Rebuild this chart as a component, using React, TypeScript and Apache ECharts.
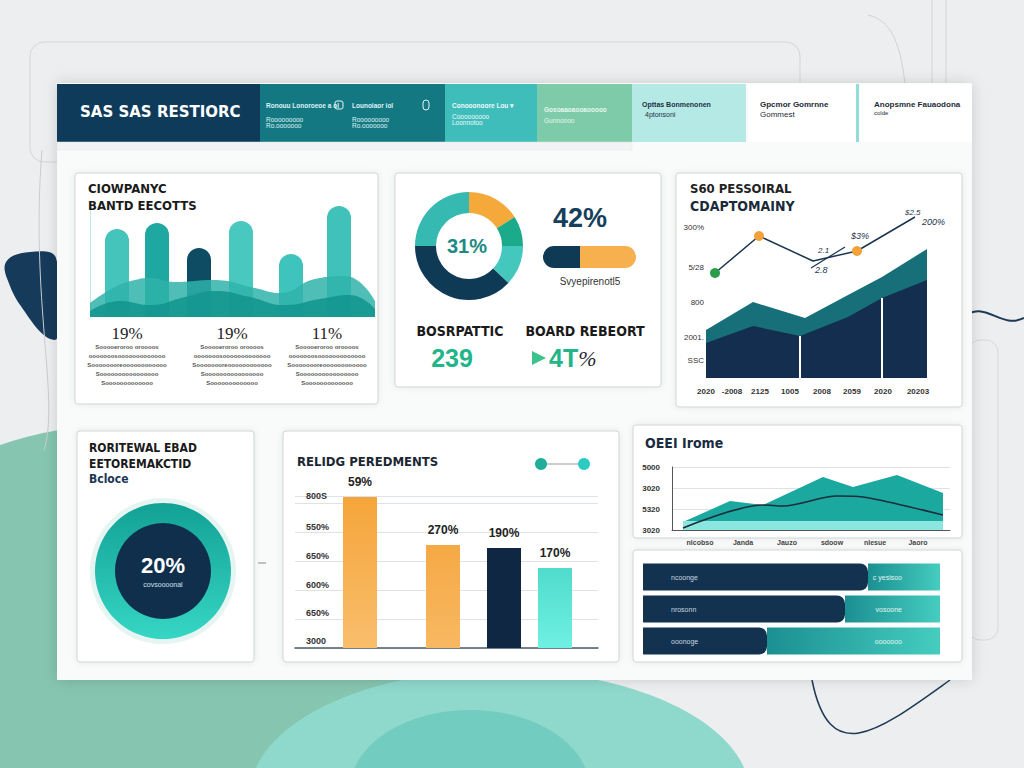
import React, { useEffect, useRef } from "react";
import * as echarts from "echarts";

// ---------- DATA ----------
const headerTitle = "SAS SAS RESTIORC";

// Panel 1: growth bars (x position on value axis, height)
const growthX = [27, 67, 109, 151, 201, 249];
const growthValues = [88, 94, 69, 96, 63, 111];
const growthWaveBack = [[0, 14], [25, 30], [45, 37], [60, 39], [85, 35], [123, 37], [165, 29], [190, 24], [225, 38], [255, 41], [285, 16]];
const growthWaveFront = [[0, 6], [30, 16], [60, 12], [95, 20], [125, 26], [160, 20], [195, 12], [230, 18], [260, 22], [285, 8]];
const growthPercents = ["19%", "19%", "11%"];
const growthNotes = ["Sooooeroroo oroooos", "ooooooosooooooooooooo", "Soooooooreoooooooooooo", "Soooooooooooooooo", "Sooooooooooooo"];

// Panel 2: donut + progress
const donutValues = [16, 9, 12, 38, 25];
const donutCenter = "31%";
const headlineValue = "42%";
const progressValues = [37, 56];
const progressCaption = "Svyepirenotl5";
const kpiLeftTitle = "BOSRPATTIC";
const kpiRightTitle = "BOARD REBEORT";
const kpiLeftValue = "239";
const kpiRightValue = "4T";

// Panel 3: personal company area chart
const p3NavyArea = [[0, 35], [47, 52], [94, 42], [142, 61], [176, 80], [221, 98]];
const p3TealArea = [[0, 48], [47, 76], [99, 60], [142, 83], [176, 101], [221, 129]];
const p3Line = [[9, 105], [53, 142], [107, 117], [151, 127], [209, 161]];
const p3ShortLine = [[105, 110], [139, 131]];
const p3YTicks = [18, 41, 76, 111, 151];
const p3YLabels = ["SSC", "2001.", "800", "5/28", "300%"];
const p3XTicks = [0, 26, 54, 84, 116, 146, 177, 212];
const p3XLabels = ["2020", "-2008", "2125", "1005", "2008", "2059", "2020", "20203"];

// Panel 4: ring
const ringValue = "20%";
const ringCaption = "covsoooonal";

// Panel 5: performance bars
const perfX = [65, 148, 209, 260];
const perfValues = [151, 103, 100, 80];
const perfLabels = ["59%", "270%", "190%", "170%"];
const perfYTicks = [7, 35, 63, 92, 121, 152];
const perfYLabels = ["3000", "650%", "600%", "650%", "550%", "800S"];

// Panel 6: income area
const incomeArea = [[11, 8], [58, 29], [91, 25], [151, 53], [181, 43], [225, 55], [271, 37]];
const incomeBand = [[11, 9], [271, 9]];
const incomeLine = [[11, 2], [91, 25], [111, 24], [165, 34], [191, 33], [225, 26], [271, 15]];
const incomeYLabels = ["3020", "5320", "3020", "5000"];
const incomeXTicks = [28, 71, 115, 160, 203, 246];
const incomeXLabels = ["nlcobso", "Janda", "Jauzo", "sdoow", "nlesue", "Jaoro"];

// Panel 7: horizontal bars
const rowCats = ["r1", "r2", "r3"];
const rowNavy = [225, 202, 124];
const rowTeal = [72, 95, 173];
const rowLeftLabels = ["ncoonge", "nrosonn", "ooonoge"];
const rowRightLabels = ["c yesisoo", "vosoone", "ooooooo"];

// ---------- HELPERS ----------
const F = "'Liberation Sans', Arial, sans-serif";
const txt = (x: number, y: number, text: string, style: any = {}, z = 50) => ({
  type: "text",
  x,
  y,
  z,
  silent: true,
  style: { text, fontFamily: F, fontSize: 12, fill: "#222", textVerticalAlign: "middle", ...style },
});
const rect = (x: number, y: number, w: number, h: number, style: any, extra: any = {}) => ({
  type: "rect",
  shape: { x, y, width: w, height: h, r: extra.r || 0 },
  style,
  silent: true,
  z: extra.z ?? 0,
});
const panel = (x: number, y: number, w: number, h: number) =>
  rect(x, y, w, h, { fill: "#ffffff", stroke: "#cfd4d7", lineWidth: 1, shadowBlur: 6, shadowColor: "rgba(0,0,0,0.08)" }, { r: 3 });

export default function App() {
  const ref = useRef<HTMLDivElement>(null);
  useEffect(() => {
    if (!ref.current) return;
    const chart = echarts.init(ref.current, undefined, { renderer: "svg" });

    const growthColors = ["#45c4bc", "#1fa8a1", "#0d4c62", "#48c8bf", "#3ec4bc", "#40c2ba"];
    const donutColors = ["#f5a93b", "#1bab8a", "#44c7bd", "#0f3a55", "#35b9b0"];

    const notes: any[] = [];
    [127, 232, 327].forEach((cx) => {
      growthNotes.forEach((n, i) => {
        notes.push(txt(cx, 347 + i * 9, n, { fontSize: 6, fill: "#555", textAlign: "center", fontWeight: "bold" }));
      });
    });

    const graphics: any[] = [
      // background
      rect(0, 0, 1024, 768, { fill: "#eceeef" }),
      { type: "ellipse", shape: { cx: 120, cy: 700, rx: 320, ry: 275 }, style: { fill: "#86c5af" }, silent: true },
      { type: "ellipse", shape: { cx: 500, cy: 795, rx: 250, ry: 125 }, style: { fill: "#8fd8cc" }, silent: true },
      { type: "ellipse", shape: { cx: 470, cy: 790, rx: 120, ry: 80 }, style: { fill: "#72ccbf" }, silent: true },
      {
        type: "polygon",
        shape: { points: [[6, 262], [30, 252], [56, 258], [57, 338], [45, 336], [25, 312], [10, 286]], smooth: 0.4 },
        style: { fill: "#163a5a" },
        silent: true,
      },
      { type: "rect", shape: { x: 30, y: 42, width: 770, height: 120, r: 14 }, style: { fill: "none", stroke: "#d3d7d9", lineWidth: 1 }, silent: true },
      { type: "line", shape: { x1: 932, y1: 0, x2: 932, y2: 85 }, style: { stroke: "#d3d6d8", lineWidth: 1 }, silent: true },
      { type: "line", shape: { x1: 946, y1: 0, x2: 946, y2: 85 }, style: { stroke: "#d3d6d8", lineWidth: 1 }, silent: true },
      { type: "bezierCurve", shape: { x1: 868, y1: 15, cpx1: 890, cpy1: 20, cpx2: 900, cpy2: 40, x2: 905, y2: 84 }, style: { stroke: "#d0d3d6", lineWidth: 1, fill: "none" }, silent: true },
      { type: "bezierCurve", shape: { x1: 962, y1: 318, cpx1: 985, cpy1: 298, cpx2: 1000, cpy2: 330, x2: 1024, y2: 318 }, style: { stroke: "#1e3a55", lineWidth: 2, fill: "none" }, silent: true },
      { type: "bezierCurve", shape: { x1: 812, y1: 680, cpx1: 830, cpy1: 770, cpx2: 880, cpy2: 730, x2: 950, y2: 680 }, style: { stroke: "#1e3a55", lineWidth: 1.5, fill: "none" }, silent: true },
      { type: "bezierCurve", shape: { x1: 42, y1: 150, cpx1: 30, cpy1: 300, cpx2: 60, cpy2: 400, x2: 44, y2: 450 }, style: { stroke: "#c9cdd0", lineWidth: 1, fill: "none" }, silent: true },
      { type: "rect", shape: { x: 968, y: 340, width: 30, height: 300, r: 12 }, style: { fill: "none", stroke: "#d6d9db", lineWidth: 1 }, silent: true },

      // main board
      rect(57, 83, 915, 597, { fill: "#f9fafa", shadowBlur: 14, shadowColor: "rgba(0,0,0,0.15)" }),
      rect(57, 84, 203, 58, { fill: "#0f3b5b" }),
      rect(260, 84, 185, 58, { fill: "#147883" }),
      rect(445, 84, 92, 58, { fill: "#3ebdbb" }),
      rect(537, 84, 95, 58, { fill: "#7dcba8" }),
      rect(632, 84, 114, 58, { fill: "#b4e9e5" }),
      rect(748, 84, 110, 58, { fill: "#ffffff" }),
      rect(856, 84, 3, 58, { fill: "#92ddd6" }),
      rect(860, 84, 112, 58, { fill: "#ffffff" }),
      rect(57, 142, 575, 8, { fill: "#f1f3f4", stroke: "#e2e5e7", lineWidth: 0.5 }),
      txt(80, 112, headerTitle, { fill: "#ffffff", fontSize: 15, fontWeight: "bold", fontFamily: "'DejaVu Sans', sans-serif" }),
      txt(266, 105, "Ronouu Lonoroeoe a ol", { fill: "#dff3f3", fontSize: 6.5, fontWeight: "bold" }),
      txt(266, 119, "Rooooooooo", { fill: "#dff3f3", fontSize: 6.5 }),
      txt(266, 125, "Ro.ooooooo", { fill: "#dff3f3", fontSize: 6.5 }),
      txt(352, 105, "Lounoiaor iol", { fill: "#dff3f3", fontSize: 6.5, fontWeight: "bold" }),
      txt(352, 119, "Rooooooooo", { fill: "#dff3f3", fontSize: 6.5 }),
      txt(352, 125, "Ro.ooooooo", { fill: "#dff3f3", fontSize: 6.5 }),
      { type: "rect", shape: { x: 335, y: 101, width: 8, height: 8, r: 2 }, style: { fill: "none", stroke: "#e6f5f5", lineWidth: 1 }, silent: true, z: 50 },
      { type: "rect", shape: { x: 423, y: 100, width: 6, height: 10, r: 3 }, style: { fill: "none", stroke: "#e6f5f5", lineWidth: 1 }, silent: true, z: 50 },
      txt(452, 105, "Conooonoore Lou \u25BE", { fill: "#eefafa", fontSize: 6.5, fontWeight: "bold" }),
      txt(452, 116, "Cooooooooo", { fill: "#eefafa", fontSize: 6.5 }),
      txt(452, 122, "Loonnotoo", { fill: "#eefafa", fontSize: 6.5 }),
      txt(544, 109, "Gosoaaoaooaooooo", { fill: "#e8f7f0", fontSize: 6.5, fontWeight: "bold" }),
      txt(544, 120, "Gunnoooo", { fill: "#e8f7f0", fontSize: 6.5 }),
      txt(642, 104, "Opttas Bonmenonen", { fill: "#1d3344", fontSize: 7, fontWeight: "bold" }),
      txt(645, 114, "4ptonsoni", { fill: "#1d3344", fontSize: 7 }),
      txt(760, 104, "Gpcmor Gomrnne", { fill: "#1d2c38", fontSize: 8, fontWeight: "bold" }),
      txt(760, 114, "Gommest", { fill: "#1d2c38", fontSize: 8 }),
      txt(874, 104, "Anopsmne Fauaodona", { fill: "#1d2c38", fontSize: 8, fontWeight: "bold" }),
      txt(874, 113, "colde", { fill: "#1d2c38", fontSize: 6 }),

      // panels
      panel(75, 173, 303, 231),
      panel(395, 173, 266, 214),
      panel(676, 173, 286, 234),
      panel(77, 431, 177, 231),
      panel(283, 431, 336, 231),
      panel(633, 425, 329, 113),
      panel(633, 550, 329, 112),

      // panel 1 texts
      txt(88, 188, "CIOWPANYC", { fontSize: 13, fontWeight: "bold", fill: "#1a1a1a", fontFamily: "'DejaVu Sans Condensed', sans-serif" }),
      txt(88, 205, "BANTD EECOTTS", { fontSize: 13, fontWeight: "bold", fill: "#1a1a1a", fontFamily: "'DejaVu Sans Condensed', sans-serif" }),
      txt(127, 333, growthPercents[0], { fontSize: 17, fill: "#222", textAlign: "center", fontFamily: "'Liberation Serif', serif" }),
      txt(232, 333, growthPercents[1], { fontSize: 17, fill: "#222", textAlign: "center", fontFamily: "'Liberation Serif', serif" }),
      txt(327, 333, growthPercents[2], { fontSize: 17, fill: "#222", textAlign: "center", fontFamily: "'Liberation Serif', serif" }),
      ...notes,

      // panel 2 texts
      txt(467, 246, donutCenter, { fontSize: 20, fontWeight: "bold", fill: "#1d8a85", textAlign: "center" }, 100),
      txt(580, 218, headlineValue, { fontSize: 27, fontWeight: "bold", fill: "#163f5c", textAlign: "center" }),
      txt(590, 281, progressCaption, { fontSize: 10, fill: "#333", textAlign: "center" }),
      txt(460, 331, kpiLeftTitle, { fontSize: 14, fontWeight: "bold", fill: "#1a1a1a", textAlign: "center", fontFamily: "'DejaVu Sans Condensed', sans-serif" }),
      txt(585, 331, kpiRightTitle, { fontSize: 14, fontWeight: "bold", fill: "#1a1a1a", textAlign: "center", fontFamily: "'DejaVu Sans Condensed', sans-serif" }),
      txt(452, 358, kpiLeftValue, { fontSize: 25, fontWeight: "bold", fill: "#22b58a", textAlign: "center" }),
      { type: "polygon", shape: { points: [[532, 351], [546, 358], [532, 365]] }, style: { fill: "#3dc28c" }, silent: true, z: 50 },
      {
        type: "text",
        x: 549,
        y: 358,
        z: 50,
        silent: true,
        style: {
          text: "{a|" + kpiRightValue + "}{b|%}",
          textVerticalAlign: "middle",
          rich: {
            a: { fontSize: 25, fontWeight: "bold", fill: "#22b58a", fontFamily: F },
            b: { fontSize: 22, fill: "#1f2a33", fontFamily: "'Liberation Serif', serif", fontStyle: "italic" },
          },
        },
      },

      // panel 3 texts
      txt(690, 188, "S60 PESSOIRAL", { fontSize: 13, fontWeight: "bold", fill: "#222", fontFamily: "'DejaVu Sans Condensed', sans-serif" }),
      txt(690, 206, "CDAPTOMAINY", { fontSize: 14, fontWeight: "bold", fill: "#1a2a3a", fontFamily: "'DejaVu Sans Condensed', sans-serif" }),
      txt(851, 236, "$3%", { fontSize: 9, fill: "#1e3550", fontStyle: "italic" }, 100),
      txt(818, 250, "2.1", { fontSize: 8, fill: "#1e3550", fontStyle: "italic" }, 100),
      txt(815, 270, "2.8", { fontSize: 9, fill: "#1e3550", fontStyle: "italic" }, 100),
      txt(905, 212, "$2.5", { fontSize: 8, fill: "#1e3550", fontStyle: "italic" }, 100),
      txt(922, 222, "200%", { fontSize: 9, fill: "#1e3550", fontStyle: "italic" }, 100),

      // panel 4 texts
      txt(89, 448, "RORITEWAL EBAD", { fontSize: 12, fontWeight: "bold", fill: "#1a1a1a", fontFamily: "'DejaVu Sans Condensed', sans-serif" }),
      txt(89, 464, "EETOREMAKCTID", { fontSize: 12, fontWeight: "bold", fill: "#1a1a1a", fontFamily: "'DejaVu Sans Condensed', sans-serif" }),
      txt(89, 479, "Bcloce", { fontSize: 12, fontWeight: "bold", fill: "#1a3550", fontFamily: "'DejaVu Sans Condensed', sans-serif" }),
      txt(163, 565, ringValue, { fontSize: 22, fontWeight: "bold", fill: "#ffffff", textAlign: "center" }, 100),
      txt(163, 584, ringCaption, { fontSize: 7, fill: "#cfe3ee", textAlign: "center" }, 100),
      { type: "line", shape: { x1: 258, y1: 563, x2: 266, y2: 563 }, style: { stroke: "#888", lineWidth: 1 }, silent: true },

      // panel 5
      txt(297, 461, "RELIDG PEREDMENTS", { fontSize: 13, fontWeight: "bold", fill: "#1b2733", fontFamily: "'DejaVu Sans Condensed', sans-serif" }),
      { type: "line", shape: { x1: 541, y1: 464, x2: 584, y2: 464 }, style: { stroke: "#c9cdd0", lineWidth: 2 }, silent: true, z: 50 },
      { type: "circle", shape: { cx: 541, cy: 464, r: 6 }, style: { fill: "#1fae9a" }, silent: true, z: 50 },
      { type: "circle", shape: { cx: 584, cy: 464, r: 6 }, style: { fill: "#2ccac2" }, silent: true, z: 50 },

      // panel 6
      txt(645, 443, "OEEI Irome", { fontSize: 14, fontWeight: "bold", fill: "#1a2c40", fontFamily: "'DejaVu Sans Condensed', sans-serif" }),
    ];

    const hidden = { show: false };
    const option: any = {
      animation: false,
      graphic: { elements: graphics },
      grid: [
        { left: 90, top: 205, width: 285, height: 112 },
        { left: 543, top: 246, width: 93, height: 22 },
        { left: 706, top: 210, width: 221, height: 168 },
        { left: 295, top: 496, width: 303, height: 152 },
        { left: 672, top: 467, width: 278, height: 63, show: true, borderColor: "#c9cdd0", borderWidth: 1 },
        { left: 643, top: 561, width: 297, height: 96 },
      ],
      xAxis: [
        { gridIndex: 0, type: "value", min: 0, max: 285, ...hidden },
        { gridIndex: 1, type: "value", min: 0, max: 93, ...hidden },
        {
          gridIndex: 2, type: "value", min: 0, max: 221,
          axisLine: { show: false }, axisTick: { show: false }, splitLine: { show: false },
          axisLabel: {
            customValues: p3XTicks, margin: 9, fontSize: 8, fontWeight: "bold", color: "#333", fontFamily: F,
            formatter: (v: number) => { const i = p3XTicks.indexOf(Math.round(v)); return i >= 0 ? p3XLabels[i] : ""; },
          },
        },
        { gridIndex: 3, type: "value", min: 0, max: 303, axisLine: { show: true, lineStyle: { color: "#4b5b68", width: 1.5 } }, axisTick: { show: false }, axisLabel: { show: false }, splitLine: { show: false } },
        {
          gridIndex: 4, type: "value", min: 0, max: 278,
          axisLine: { show: true, lineStyle: { color: "#555", width: 1 } }, axisTick: { show: false }, splitLine: { show: false },
          axisLabel: {
            customValues: incomeXTicks, margin: 9, fontSize: 7, fontWeight: "bold", color: "#444", fontFamily: F,
            formatter: (v: number) => { const i = incomeXTicks.indexOf(Math.round(v)); return i >= 0 ? incomeXLabels[i] : ""; },
          },
        },
        { gridIndex: 5, type: "value", min: 0, max: 297, ...hidden },
      ],
      yAxis: [
        { gridIndex: 0, type: "value", min: 0, max: 112, axisLine: { show: true, lineStyle: { color: "#bfe7e3" } }, axisTick: { show: false }, axisLabel: { show: false }, splitLine: { show: false } },
        { gridIndex: 1, type: "category", data: ["p"], ...hidden },
        {
          gridIndex: 2, type: "value", min: 0, max: 168,
          axisLine: { show: false }, axisTick: { show: false }, splitLine: { show: false },
          axisLabel: {
            customValues: p3YTicks, margin: 2, fontSize: 8, color: "#333", fontFamily: F,
            formatter: (v: number) => { const i = p3YTicks.indexOf(Math.round(v)); return i >= 0 ? p3YLabels[i] : ""; },
          },
        },
        {
          gridIndex: 3, type: "value", min: 0, max: 152, interval: 29,
          axisLine: { show: false }, axisTick: { show: false },
          splitLine: { show: true, lineStyle: { color: "#e0e3e5" } },
          axisLabel: {
            customValues: perfYTicks, inside: true, margin: 11, fontSize: 9, fontWeight: "bold", color: "#333", fontFamily: F,
            formatter: (v: number) => { const i = perfYTicks.indexOf(Math.round(v)); return i >= 0 ? perfYLabels[i] : ""; },
          },
        },
        {
          gridIndex: 4, type: "value", min: 0, max: 63, interval: 21,
          axisLine: { show: true, lineStyle: { color: "#555" } }, axisTick: { show: false },
          splitLine: { show: true, lineStyle: { color: "#dfe2e4" } },
          axisLabel: { margin: 12, fontSize: 8, fontWeight: "bold", color: "#333", fontFamily: F, formatter: (v: number) => incomeYLabels[Math.round(v / 21)] || "" },
        },
        { gridIndex: 5, type: "category", data: rowCats, inverse: true, ...hidden },
      ],
      series: [
        // panel 1 waves
        { type: "line", xAxisIndex: 0, yAxisIndex: 0, data: growthWaveBack, smooth: 0.5, symbol: "none", lineStyle: { width: 0 }, areaStyle: { color: "#2fb3aa", opacity: 0.85 }, silent: true },
        { type: "line", xAxisIndex: 0, yAxisIndex: 0, data: growthWaveFront, smooth: 0.5, symbol: "none", lineStyle: { width: 0 }, areaStyle: { color: "#14968f", opacity: 0.9 }, silent: true },
        {
          type: "bar", xAxisIndex: 0, yAxisIndex: 0, barWidth: 24, silent: true,
          data: growthX.map((x, i) => ({ value: [x, growthValues[i]], itemStyle: { color: growthColors[i], borderRadius: [12, 12, 0, 0] } })),
        },
        // panel 2 progress
        { type: "bar", xAxisIndex: 1, yAxisIndex: 1, stack: "p", barWidth: 22, data: [progressValues[0]], itemStyle: { color: "#0f3a55", borderRadius: [11, 0, 0, 11] }, silent: true },
        { type: "bar", xAxisIndex: 1, yAxisIndex: 1, stack: "p", barWidth: 22, data: [progressValues[1]], itemStyle: { color: "#f7b04e", borderRadius: [0, 11, 11, 0] }, silent: true },
        // panel 2 donut
        {
          type: "pie", center: [469, 246], radius: [33, 54], startAngle: 90, silent: true, label: { show: false },
          data: donutValues.map((v, i) => ({ value: v, itemStyle: { color: donutColors[i] } })),
        },
        // panel 3
        { type: "line", xAxisIndex: 2, yAxisIndex: 2, data: p3TealArea, symbol: "none", lineStyle: { width: 0 }, areaStyle: { color: "#166f79", opacity: 1 }, silent: true },
        {
          type: "line", xAxisIndex: 2, yAxisIndex: 2, data: p3NavyArea, symbol: "none", lineStyle: { width: 0 }, areaStyle: { color: "#132e4e", opacity: 1 }, silent: true,
          markLine: {
            silent: true, symbol: "none", label: { show: false }, lineStyle: { color: "#ffffff", width: 2, type: "solid" },
            data: [[{ coord: [94, 0] }, { coord: [94, 42] }], [{ coord: [176, 0] }, { coord: [176, 80] }]],
          },
        },
        {
          type: "line", xAxisIndex: 2, yAxisIndex: 2, silent: true, symbol: "circle", symbolSize: 0,
          lineStyle: { color: "#1b3550", width: 1.5 },
          data: p3Line.map((p, i) => ({
            value: p,
            symbolSize: i === 0 || i === 1 || i === 3 ? 10 : 0,
            itemStyle: { color: i === 0 ? "#2a9d4a" : "#f0a33a" },
          })),
        },
        { type: "line", xAxisIndex: 2, yAxisIndex: 2, data: p3ShortLine, symbol: "none", silent: true, lineStyle: { color: "#1b3550", width: 1.2 } },
        // panel 4 ring
        { type: "pie", center: [163, 571], radius: [67, 73], silent: true, label: { show: false }, data: [{ value: 1, itemStyle: { color: "#e6f4f2" } }] },
        {
          type: "pie", center: [163, 571], radius: [47, 68], silent: true, label: { show: false },
          data: [{ value: 1, itemStyle: { color: new echarts.graphic.LinearGradient(0, 0, 0, 1, [{ offset: 0, color: "#12a195" }, { offset: 1, color: "#36d6c4" }]) } }],
        },
        { type: "pie", center: [163, 571], radius: [0, 48], silent: true, label: { show: false }, data: [{ value: 1, itemStyle: { color: "#102f4c" } }] },
        // panel 5 bars
        {
          type: "bar", xAxisIndex: 3, yAxisIndex: 3, barWidth: 34, silent: true,
          label: { show: true, position: "top", distance: 9, fontSize: 12, fontWeight: "bold", color: "#222", fontFamily: F, formatter: (p: any) => perfLabels[p.dataIndex] },
          data: perfX.map((x, i) => ({
            value: [x, perfValues[i]],
            itemStyle: {
              color: [
                new echarts.graphic.LinearGradient(0, 0, 0, 1, [{ offset: 0, color: "#f5a53a" }, { offset: 1, color: "#f9be6c" }]),
                new echarts.graphic.LinearGradient(0, 0, 0, 1, [{ offset: 0, color: "#f5a945" }, { offset: 1, color: "#f8b862" }]),
                "#0f2742",
                new echarts.graphic.LinearGradient(0, 0, 0, 1, [{ offset: 0, color: "#4fdccc" }, { offset: 1, color: "#6ff0e2" }]),
              ][i],
            },
          })),
        },
        // panel 6
        { type: "line", xAxisIndex: 4, yAxisIndex: 4, data: incomeArea, symbol: "none", lineStyle: { width: 0 }, areaStyle: { color: "#1aa89f", opacity: 1 }, silent: true },
        { type: "line", xAxisIndex: 4, yAxisIndex: 4, data: incomeBand, symbol: "none", lineStyle: { width: 0 }, areaStyle: { color: "#8ae6de", opacity: 1 }, silent: true },
        { type: "line", xAxisIndex: 4, yAxisIndex: 4, data: incomeLine, symbol: "none", smooth: 0.3, lineStyle: { color: "#1b2d3c", width: 1.6 }, silent: true },
        // panel 7
        {
          type: "bar", xAxisIndex: 5, yAxisIndex: 5, stack: "r", barWidth: 27, silent: true, data: rowNavy,
          itemStyle: { color: "#13324f", borderRadius: [0, 8, 8, 0] },
          label: { show: true, position: "insideLeft", distance: 28, fontSize: 7, color: "#c9d7e2", fontFamily: F, formatter: (p: any) => rowLeftLabels[p.dataIndex] },
        },
        {
          type: "bar", xAxisIndex: 5, yAxisIndex: 5, stack: "r", barWidth: 27, silent: true, data: rowTeal,
          itemStyle: { color: new echarts.graphic.LinearGradient(0, 0, 1, 0, [{ offset: 0, color: "#1b8f92" }, { offset: 1, color: "#45cdbf" }]) },
          label: { show: true, position: "insideRight", distance: 38, fontSize: 7, color: "#e2f6f4", fontFamily: F, formatter: (p: any) => rowRightLabels[p.dataIndex] },
        },
      ],
    };
    chart.setOption(option);
    return () => chart.dispose();
  }, []);
  return <div ref={ref} style={{ position: "absolute", left: 0, top: 0, width: 1024, height: 768 }} />;
}
